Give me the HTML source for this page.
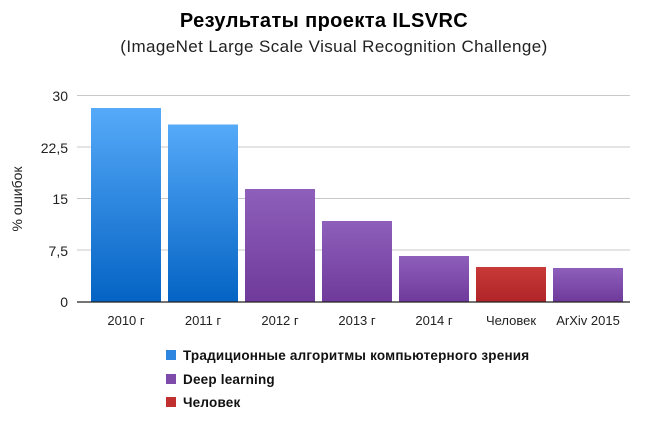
<!DOCTYPE html>
<html><head><meta charset="utf-8"><style>
body{margin:0;background:#fff;width:648px;height:417px;overflow:hidden;font-family:"Liberation Sans","DejaVu Sans",sans-serif}
</style></head><body>
<svg width="648" height="417" xmlns="http://www.w3.org/2000/svg" font-family="Liberation Sans, DejaVu Sans, sans-serif">
<defs>
<linearGradient id="b" x1="0" y1="0" x2="0" y2="1"><stop offset="0" stop-color="#56aaf9"/><stop offset="1" stop-color="#0463c3"/></linearGradient>
<linearGradient id="p" x1="0" y1="0" x2="0" y2="1"><stop offset="0" stop-color="#8e5fbb"/><stop offset="1" stop-color="#6f3a9b"/></linearGradient>
<linearGradient id="r" x1="0" y1="0" x2="0" y2="1"><stop offset="0" stop-color="#c83a38"/><stop offset="1" stop-color="#b02428"/></linearGradient>
</defs>
<text x="324" y="27" text-anchor="middle" font-size="20" font-weight="bold" fill="#000" letter-spacing="0.4">Результаты проекта ILSVRC</text>
<text x="334" y="52" text-anchor="middle" font-size="17" fill="#222" letter-spacing="0.4">(ImageNet Large Scale Visual Recognition Challenge)</text>
<g stroke="#c8c8c8" stroke-width="1">
<line x1="77" y1="95.5" x2="630" y2="95.5"/><line x1="77" y1="147" x2="630" y2="147"/><line x1="77" y1="198.5" x2="630" y2="198.5"/><line x1="77" y1="250" x2="630" y2="250"/>
</g>
<g font-size="14" fill="#222" text-anchor="end">
<text x="68" y="101">30</text><text x="68" y="153">22,5</text><text x="68" y="204">15</text><text x="68" y="256">7,5</text><text x="68" y="307">0</text>
</g>
<text transform="translate(22,199) rotate(-90)" text-anchor="middle" font-size="14" fill="#222">% ошибок</text>
<rect x="91" y="108" width="70" height="194" fill="url(#b)"/>
<rect x="168" y="124.5" width="70" height="177.5" fill="url(#b)"/>
<rect x="245" y="189" width="70" height="113" fill="url(#p)"/>
<rect x="322" y="221" width="70" height="81" fill="url(#p)"/>
<rect x="399" y="256" width="70" height="46" fill="url(#p)"/>
<rect x="476" y="267" width="70" height="35" fill="url(#r)"/>
<rect x="553" y="268" width="70" height="34" fill="url(#p)"/>
<line x1="77" y1="302" x2="630" y2="302" stroke="#222" stroke-width="1.2"/>
<g font-size="13" fill="#222" text-anchor="middle">
<text x="126" y="325">2010 г</text><text x="203" y="325">2011 г</text><text x="280" y="325">2012 г</text><text x="357" y="325">2013 г</text><text x="434" y="325">2014 г</text><text x="511" y="325">Человек</text><text x="588" y="325">ArXiv 2015</text>
</g>
<rect x="166" y="350" width="10" height="10" fill="#2f86e0"/>
<rect x="166" y="374" width="10" height="10" fill="#7e4bab"/>
<rect x="166" y="397" width="10" height="10" fill="#c0302f"/>
<g font-size="13.5" fill="#111" font-weight="bold" letter-spacing="0.2">
<text x="183" y="360">Традиционные алгоритмы компьютерного зрения</text>
<text x="183" y="384">Deep learning</text>
<text x="183" y="407">Человек</text>
</g>
</svg>
</body></html>
